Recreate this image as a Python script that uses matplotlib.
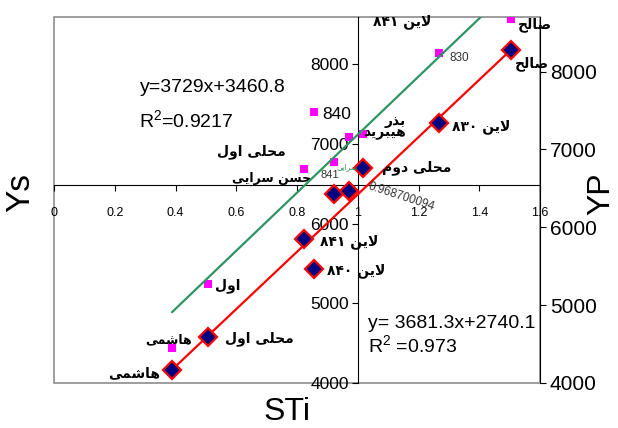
import matplotlib
matplotlib.use("Agg")
import matplotlib.pyplot as plt
import numpy as np
from matplotlib.patches import Rectangle
from matplotlib import font_manager, ft2font
from matplotlib.font_manager import FontProperties

plt.rcParams['font.family'] = ['Liberation Sans', 'DejaVu Sans']
plt.rcParams['mathtext.fontset'] = 'custom'
plt.rcParams['mathtext.rm'] = 'Liberation Sans'

# ---------------- data ----------------
sti = [0.389, 0.508, 0.824, 0.856, 0.922, 0.971, 1.017, 1.267, 1.505]
ys_vals = [4439, 5241, 6683, 7398, 6771, 7085, 7122, 8138, 8564]
yp_vals = [4166, 4588, 5853, 5470, 6428, 6466, 6760, 7335, 8281]
ys_labels = ['هاشمی', 'اول', 'حسن سرایی', '840', '841', '', 'بذر\nهیبرید', '830', 'صالح']
yp_labels = ['هاشمی', 'محلی اول', 'لاین ۸۴۱', 'لاین ۸۴۰', '', '', 'محلی دوم', 'لاین ۸۳۰', 'صالح']
ys_fit = (3729.0, 3460.8)
yp_fit = (3681.3, 2740.1)
x_ticks = [0, 0.2, 0.4, 0.6, 0.8, 1.0, 1.2, 1.4, 1.6]
x_ticklabels = ['0', '0.2', '0.4', '0.6', '0.8', '1', '1.2', '1.4', '1.6']
y_ticks = [4000, 5000, 6000, 7000, 8000]

# ---------------- Persian shaping (presentation forms, visual order) ----------------
FORMS = {
    '\u0627': ('\uFE8D', '\uFE8E', None, None),
    '\u0628': ('\uFE8F', '\uFE90', '\uFE91', '\uFE92'),
    '\u062D': ('\uFEA1', '\uFEA2', '\uFEA3', '\uFEA4'),
    '\u062F': ('\uFEA9', '\uFEAA', None, None),
    '\u0630': ('\uFEAB', '\uFEAC', None, None),
    '\u0631': ('\uFEAD', '\uFEAE', None, None),
    '\u0633': ('\uFEB1', '\uFEB2', '\uFEB3', '\uFEB4'),
    '\u0634': ('\uFEB5', '\uFEB6', '\uFEB7', '\uFEB8'),
    '\u0635': ('\uFEB9', '\uFEBA', '\uFEBB', '\uFEBC'),
    '\u0644': ('\uFEDD', '\uFEDE', '\uFEDF', '\uFEE0'),
    '\u0645': ('\uFEE1', '\uFEE2', '\uFEE3', '\uFEE4'),
    '\u0646': ('\uFEE5', '\uFEE6', '\uFEE7', '\uFEE8'),
    '\u0647': ('\uFEE9', '\uFEEA', '\uFEEB', '\uFEEC'),
    '\u0648': ('\uFEED', '\uFEEE', None, None),
    '\u06CC': ('\uFBFC', '\uFBFD', '\uFBFE', '\uFBFF'),
}
try:
    _p = font_manager.findfont(FontProperties(family='DejaVu Sans', weight='bold'))
    _f = ft2font.FT2Font(_p)
    if _f.get_char_index(0xFBFC) == 0 or _f.get_char_index(0xFBFE) == 0:
        FORMS['\u06CC'] = ('\uFEEF', '\uFEF0', '\uFEF3', '\uFEF4')
except Exception:
    pass


def shape_word(w):
    out = []
    i = 0
    n = len(w)
    prev = False
    while i < n:
        c = w[i]
        if c not in FORMS:
            out.append(c)
            prev = False
            i += 1
            continue
        if c == '\u0644' and i + 1 < n and w[i + 1] == '\u0627':
            out.append('\uFEFC' if prev else '\uFEFB')
            prev = False
            i += 2
            continue
        f = FORMS[c]
        dual = f[2] is not None
        jn = dual and (i + 1 < n) and (w[i + 1] in FORMS)
        if prev and jn:
            g = f[3]
        elif prev:
            g = f[1]
        elif jn:
            g = f[2]
        else:
            g = f[0]
        out.append(g)
        prev = jn
        i += 1
    return ''.join(out)


def vis(s):
    res = []
    for line in s.split('\n'):
        words = line.split(' ')
        v = []
        for w in words:
            if any(ch in FORMS for ch in w):
                v.append(shape_word(w)[::-1])
            else:
                v.append(w)
        res.append(' '.join(v[::-1]))
    return '\n'.join(res)


def is_fa(s):
    return any(ch in FORMS for ch in s)


FA = dict(family=['DejaVu Sans'], fontweight='bold')

# ---------------- figure ----------------
W, H = 618, 428
fig = plt.figure(figsize=(W / 100, H / 100), dpi=100)
ax = fig.add_axes([54 / W, 1 - 383 / H, (540 - 54) / W, (383 - 17) / H])
ax2 = ax.twinx()

ax.set_xlim(0, 1.6)
ax.set_ylim(4000, 8590)
ax2.set_ylim(4000, 8700)

# spines
for s in ['top', 'right']:
    ax.spines[s].set_visible(False)
ax.spines['left'].set_position(('data', 1.0))
ax.spines['bottom'].set_position(('data', 6480))
ax.spines['left'].set_color('black')
ax.spines['bottom'].set_color('black')
for s in ['top', 'left', 'bottom']:
    ax2.spines[s].set_visible(False)
ax2.spines['right'].set_color('black')
ax.add_patch(Rectangle((0, 0), 1, 1, transform=ax.transAxes, fill=False,
                       edgecolor='#8c8c8c', lw=1.2, clip_on=False, zorder=0))

ax.set_xticks(x_ticks)
ax.set_xticklabels(x_ticklabels)
ax.tick_params(axis='x', direction='out', length=4.5, pad=11, labelsize=9)
ax.set_yticks(y_ticks)
ax.set_yticklabels([str(t) for t in y_ticks])
ax.tick_params(axis='y', direction='out', length=4, pad=2.5, labelsize=12.5)
ax2.set_yticks(y_ticks)
ax2.set_yticklabels([str(t) for t in y_ticks])
ax2.tick_params(axis='y', direction='out', length=4, pad=3, labelsize=15)

# trend lines (both follow the YP scale)
xr = np.array([min(sti), max(sti)])
ax2.plot(xr, ys_fit[0] * xr + ys_fit[1], color='#2e9464', lw=1.6, zorder=2)
ax2.plot(xr, yp_fit[0] * xr + yp_fit[1], color='#ff0000', lw=1.6, zorder=2)

# points
ax.plot(sti, ys_vals, 's', color='#ff00ff', ms=6.3, mew=0, zorder=3, linestyle='none')
ax2.plot(sti, yp_vals, 'D', mfc='#000080', mec='#ff0000', ms=9, mew=1.6, zorder=4,
         linestyle='none')

# point labels
ys_off = [(-4, 8, 'center'), (7, -2, 'left'), (7, -9, 'right'), (8, -2, 'left'),
          (-4, -13, 'center'), (0, 0, 'left'), (43, 7, 'right'), (11, -5, 'left'),
          (7, -6, 'left')]
ys_size = [9, 10, 9, 12.5, 8, 9, 10, 8.5, 10]
for x, y, lab, (dx, dy, ha), fs in zip(sti, ys_vals, ys_labels, ys_off, ys_size):
    if not lab:
        continue
    if is_fa(lab):
        ax.annotate(vis(lab), (x, y), xytext=(dx, dy), textcoords='offset pixels',
                    ha=ha, va='center', fontsize=fs, color='black',
                    multialignment='right', linespacing=0.8, zorder=6, **FA)
    else:
        ax.annotate(lab, (x, y), xytext=(dx, dy), textcoords='offset pixels',
                    ha=ha, va='center', fontsize=fs,
                    color='black' if fs > 10 else '#333333', zorder=6)

yp_off = [(-12, -3, 'right'), (17, -1, 'left'), (16, -3, 'left'), (13, -2, 'left'),
          (0, 0, 'left'), (0, 0, 'left'), (19, 0, 'left'), (13, -3, 'left'),
          (4, -14, 'left')]
for x, y, lab, (dx, dy, ha) in zip(sti, yp_vals, yp_labels, yp_off):
    if not lab:
        continue
    ax2.annotate(vis(lab), (x, y), xytext=(dx, dy), textcoords='offset pixels',
                 ha=ha, va='center', fontsize=10, color='black', zorder=6, **FA)

# floating texts
def ft(px, py, s, **kw):
    fig.text(px / W, 1 - py / H, s, **kw)

ft(402, 22, vis('لاین ۸۴۱'), ha='center', va='center', fontsize=10, **FA)
ft(251, 152, vis('محلی اول'), ha='center', va='center', fontsize=10, **FA)
ft(347, 167, vis('سرایی'), ha='center', va='center', fontsize=5.5,
   family=['DejaVu Sans'], color='#2e9464')
ft(368, 186, '0.968700094', ha='left', va='center', fontsize=8.5, rotation=-18,
   rotation_mode='anchor', color='#333333')

ft(140, 88, 'y=3729x+3460.8', ha='left', va='center', fontsize=14)
ft(139, 121, r'R$^\mathregular{2}$=0.9217', ha='left', va='center', fontsize=14)
ft(368, 323, 'y= 3681.3x+2740.1', ha='left', va='center', fontsize=14)
ft(368, 346, r'R$^\mathregular{2}$ =0.973', ha='left', va='center', fontsize=14)

# axis titles
ft(21, 193, 'Ys', ha='center', va='center', fontsize=24, rotation=90)
ft(601, 194, 'YP', ha='center', va='center', fontsize=23, rotation=90)
ft(287, 427, 'STi', ha='center', va='bottom', fontsize=23)

fig.savefig('out.png', dpi=100)
